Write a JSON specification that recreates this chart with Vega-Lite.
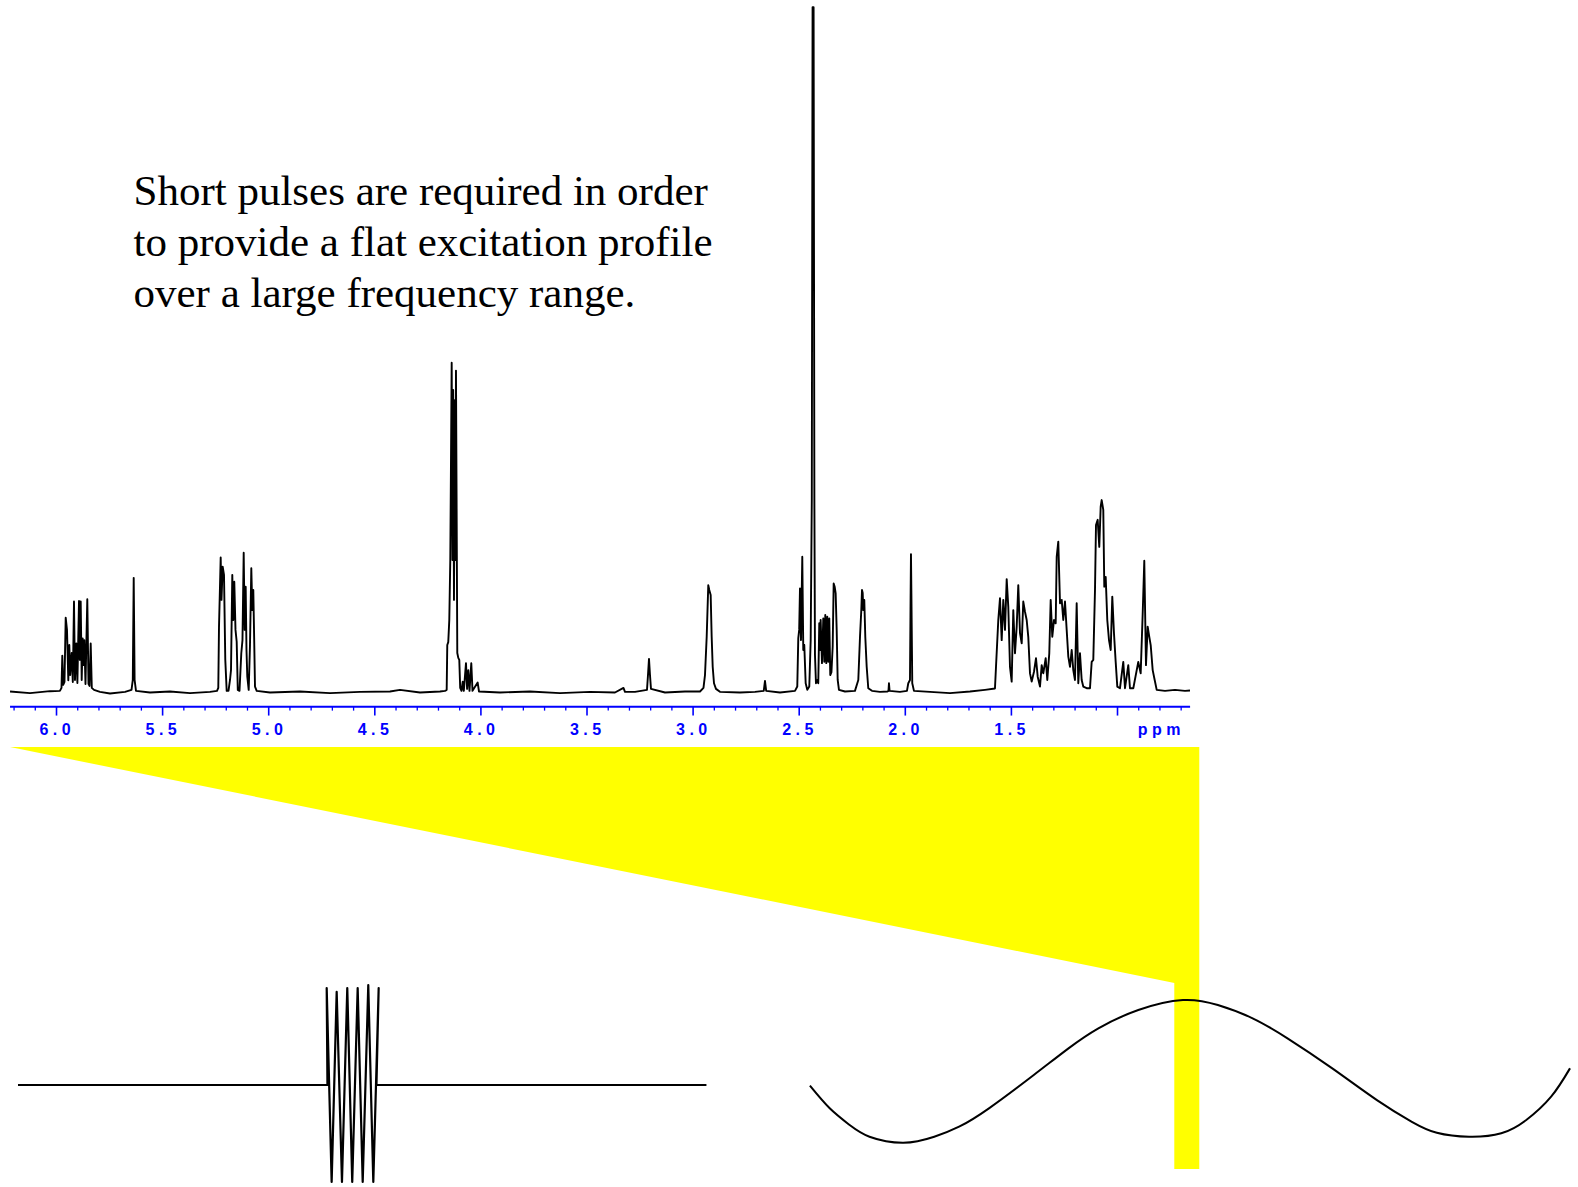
{
"$schema": "https://vega.github.io/schema/vega-lite/v6.json",
"width": 1578, "height": 1187,
"autosize": {"type": "none"},
"padding": 0,
"background": "white",
"config": {"view": {"stroke": null}},
"datasets": {
"spectrum": [
{"ppm":6.219,"int":0.3},{"ppm":6.125,"int":-0.2},{"ppm":6.031,"int":0.4},{"ppm":5.984,"int":0.5},
{"ppm":5.9765,"int":1.4},{"ppm":5.9727,"int":11.2},{"ppm":5.9685,"int":2.3},{"ppm":5.9624,"int":3.2},{"ppm":5.9567,"int":22.7},{"ppm":5.9506,"int":19.0},{"ppm":5.9444,"int":3.7},{"ppm":5.9397,"int":14.4},{"ppm":5.9355,"int":5.3},{"ppm":5.9284,"int":12.0},{"ppm":5.9232,"int":3.2},{"ppm":5.9176,"int":27.6},{"ppm":5.9129,"int":3.8},{"ppm":5.9067,"int":14.9},{"ppm":5.9016,"int":2.9},{"ppm":5.8940,"int":27.8},{"ppm":5.8902,"int":9.9},{"ppm":5.8860,"int":27.6},{"ppm":5.8813,"int":3.8},{"ppm":5.8766,"int":16.4},{"ppm":5.8728,"int":8.3},{"ppm":5.8690,"int":15.9},{"ppm":5.8634,"int":2.6},{"ppm":5.8549,"int":28.3},{"ppm":5.8493,"int":2.6},{"ppm":5.8445,"int":2.0},{"ppm":5.8389,"int":14.9},{"ppm":5.8337,"int":1.4},{"ppm":5.8233,"int":0.8},{"ppm":5.7951,"int":0.2},
{"ppm":5.748,"int":-0.3},{"ppm":5.677,"int":0.2},
{"ppm":5.6466,"int":0.8},{"ppm":5.6405,"int":3.8},{"ppm":5.6362,"int":34.8},{"ppm":5.6320,"int":3.8},{"ppm":5.6254,"int":0.5},
{"ppm":5.5594,"int":0},{"ppm":5.4652,"int":0.3},{"ppm":5.3709,"int":-0.2},{"ppm":5.2767,"int":0.2},{"ppm":5.2437,"int":0.5},
{"ppm":5.2376,"int":1.4},{"ppm":5.2343,"int":19.8},{"ppm":5.2263,"int":41.0},{"ppm":5.2225,"int":28.1},{"ppm":5.2169,"int":38.2},{"ppm":5.2107,"int":35.7},{"ppm":5.2046,"int":9.9},{"ppm":5.1980,"int":0.5},{"ppm":5.1895,"int":0.5},{"ppm":5.1824,"int":3.8},{"ppm":5.1777,"int":6.8},{"ppm":5.1716,"int":35.7},{"ppm":5.1669,"int":22.0},{"ppm":5.1622,"int":33.6},{"ppm":5.1565,"int":19.0},{"ppm":5.1509,"int":15.4},{"ppm":5.1457,"int":0.8},{"ppm":5.1377,"int":0.5},{"ppm":5.1330,"int":6.8},{"ppm":5.1292,"int":11.9},{"ppm":5.1236,"int":15.9},{"ppm":5.1179,"int":42.4},{"ppm":5.1132,"int":19.0},{"ppm":5.1085,"int":32.1},{"ppm":5.1047,"int":12.9},{"ppm":5.1009,"int":4.8},{"ppm":5.0943,"int":0.8},{"ppm":5.0882,"int":14.4},{"ppm":5.0820,"int":37.7},{"ppm":5.0773,"int":25.0},{"ppm":5.0726,"int":31.1},{"ppm":5.0684,"int":15.9},{"ppm":5.0646,"int":1.8},{"ppm":5.0566,"int":0.5},
{"ppm":4.9939,"int":0},{"ppm":4.8525,"int":0.3},{"ppm":4.7111,"int":-0.2},{"ppm":4.5698,"int":0.2},{"ppm":4.4284,"int":0.3},{"ppm":4.3813,"int":0.8},{"ppm":4.2871,"int":0},{"ppm":4.1928,"int":0.3},{"ppm":4.1692,"int":0.5},
{"ppm":4.1613,"int":0.8},{"ppm":4.1585,"int":14.4},{"ppm":4.1538,"int":15.3},{"ppm":4.1490,"int":22.0},{"ppm":4.1443,"int":40.2},{"ppm":4.1377,"int":100.1},{"ppm":4.1340,"int":40.2},{"ppm":4.1307,"int":91.8},{"ppm":4.1269,"int":28.1},{"ppm":4.1231,"int":88.7},{"ppm":4.1203,"int":40.2},{"ppm":4.1175,"int":97.7},{"ppm":4.1146,"int":58.4},{"ppm":4.1113,"int":12.0},{"ppm":4.1066,"int":10.5},{"ppm":4.1019,"int":9.9},{"ppm":4.0976,"int":1.4},{"ppm":4.0915,"int":0.5},{"ppm":4.0858,"int":3.3},{"ppm":4.0806,"int":0.5},{"ppm":4.0703,"int":8.9},{"ppm":4.0651,"int":1.1},{"ppm":4.0594,"int":6.8},{"ppm":4.0538,"int":0.5},{"ppm":4.0453,"int":8.9},{"ppm":4.0396,"int":0.5},{"ppm":4.0152,"int":3.0},{"ppm":4.0090,"int":0.3},
{"ppm":3.9101,"int":0},{"ppm":3.7687,"int":0.3},{"ppm":3.6273,"int":-0.2},{"ppm":3.4859,"int":0.2},{"ppm":3.3681,"int":0},{"ppm":3.3281,"int":1.4},{"ppm":3.3210,"int":0.2},{"ppm":3.2739,"int":0.2},
{"ppm":3.2173,"int":0.8},{"ppm":3.2126,"int":5.3},{"ppm":3.2079,"int":10.2},{"ppm":3.2032,"int":5.3},{"ppm":3.1985,"int":1.1},
{"ppm":3.1325,"int":0},{"ppm":3.0383,"int":0.3},{"ppm":2.9675,"int":0.3},
{"ppm":2.9511,"int":1.4},{"ppm":2.9440,"int":5.3},{"ppm":2.9360,"int":16.9},{"ppm":2.9285,"int":32.6},{"ppm":2.9238,"int":31.1},{"ppm":2.9172,"int":29.6},{"ppm":2.9125,"int":16.9},{"ppm":2.9077,"int":7.8},{"ppm":2.9016,"int":2.8},{"ppm":2.8922,"int":1.1},{"ppm":2.8734,"int":0.2},
{"ppm":2.7791,"int":0},{"ppm":2.7084,"int":0.2},{"ppm":2.6670,"int":0.5},{"ppm":2.6613,"int":3.5},{"ppm":2.6557,"int":0.5},{"ppm":2.5906,"int":0},{"ppm":2.5199,"int":0.5},
{"ppm":2.5091,"int":1.8},{"ppm":2.5044,"int":16.4},{"ppm":2.5001,"int":19.0},{"ppm":2.4963,"int":31.6},{"ppm":2.4916,"int":15.9},{"ppm":2.4855,"int":41.2},{"ppm":2.4808,"int":12.9},{"ppm":2.4761,"int":14.4},{"ppm":2.4695,"int":2.8},{"ppm":2.4619,"int":0.8},{"ppm":2.4525,"int":1.8},{"ppm":2.4459,"int":15.9},{"ppm":2.4407,"int":58.4},{"ppm":2.4370,"int":208.0},{"ppm":2.4322,"int":208.0},{"ppm":2.4285,"int":58.4},{"ppm":2.4257,"int":11.4},{"ppm":2.4210,"int":2.8},{"ppm":2.4149,"int":3.8},{"ppm":2.4102,"int":2.8},{"ppm":2.4055,"int":21.0},{"ppm":2.4022,"int":12.9},{"ppm":2.3989,"int":22.0},{"ppm":2.3927,"int":8.9},{"ppm":2.3865,"int":22.5},{"ppm":2.3818,"int":9.3},{"ppm":2.3771,"int":23.5},{"ppm":2.3724,"int":8.9},{"ppm":2.3677,"int":23.0},{"ppm":2.3630,"int":9.3},{"ppm":2.3583,"int":22.5},{"ppm":2.3536,"int":5.3},{"ppm":2.3480,"int":6.2},{"ppm":2.3423,"int":13.9},{"ppm":2.3376,"int":33.1},{"ppm":2.3329,"int":32.1},{"ppm":2.3282,"int":30.1},{"ppm":2.3234,"int":19.0},{"ppm":2.3187,"int":3.8},{"ppm":2.3126,"int":0.8},{"ppm":2.2843,"int":0.3},{"ppm":2.2372,"int":0.5},
{"ppm":2.2215,"int":3.8},{"ppm":2.2135,"int":16.9},{"ppm":2.2074,"int":25.0},{"ppm":2.2041,"int":31.1},{"ppm":2.2008,"int":30.2},{"ppm":2.1980,"int":25.0},{"ppm":2.1933,"int":28.1},{"ppm":2.1886,"int":16.9},{"ppm":2.1820,"int":7.8},{"ppm":2.1745,"int":1.3},{"ppm":2.1571,"int":0.5},
{"ppm":2.1194,"int":0.2},{"ppm":2.0841,"int":0.3},{"ppm":2.0793,"int":0.5},{"ppm":2.0770,"int":2.8},{"ppm":2.0741,"int":0.5},{"ppm":2.0252,"int":0.2},{"ppm":1.9922,"int":0.5},
{"ppm":1.9860,"int":2.8},{"ppm":1.9780,"int":3.8},{"ppm":1.9752,"int":28.1},{"ppm":1.9733,"int":42.0},{"ppm":1.9710,"int":28.1},{"ppm":1.9672,"int":2.8},{"ppm":1.9592,"int":0.5},
{"ppm":1.8837,"int":0.2},{"ppm":1.7895,"int":-0.2},{"ppm":1.6952,"int":0.3},{"ppm":1.6245,"int":0.8},{"ppm":1.5775,"int":1.2},
{"ppm":1.5726,"int":7.8},{"ppm":1.5618,"int":22.0},{"ppm":1.5538,"int":28.6},{"ppm":1.5458,"int":15.9},{"ppm":1.5382,"int":28.1},{"ppm":1.5302,"int":19.0},{"ppm":1.5222,"int":34.4},{"ppm":1.5147,"int":26.0},{"ppm":1.5067,"int":7.8},{"ppm":1.4987,"int":3.3},{"ppm":1.4911,"int":25.0},{"ppm":1.4831,"int":11.9},{"ppm":1.4751,"int":20.0},{"ppm":1.4676,"int":32.6},{"ppm":1.4595,"int":18.0},{"ppm":1.4515,"int":14.9},{"ppm":1.4440,"int":27.6},{"ppm":1.4360,"int":24.5},{"ppm":1.4280,"int":22.0},{"ppm":1.4205,"int":16.9},{"ppm":1.4124,"int":5.8},{"ppm":1.4044,"int":3.3},{"ppm":1.3936,"int":6.3},{"ppm":1.3841,"int":10.4},{"ppm":1.3761,"int":4.8},{"ppm":1.3653,"int":1.8},{"ppm":1.3573,"int":8.3},{"ppm":1.3497,"int":5.8},{"ppm":1.3384,"int":10.4},{"ppm":1.3309,"int":3.8},{"ppm":1.3215,"int":11.9},{"ppm":1.3149,"int":28.1},{"ppm":1.3074,"int":16.9},{"ppm":1.2993,"int":22.0},{"ppm":1.2913,"int":21.0},{"ppm":1.2866,"int":41.2},{"ppm":1.2791,"int":45.8},{"ppm":1.2710,"int":27.1},{"ppm":1.2630,"int":28.1},{"ppm":1.2555,"int":22.0},{"ppm":1.2475,"int":27.6},{"ppm":1.2395,"int":19.0},{"ppm":1.2319,"int":10.9},{"ppm":1.2239,"int":7.8},{"ppm":1.2159,"int":12.9},{"ppm":1.2084,"int":6.8},{"ppm":1.2004,"int":3.8},{"ppm":1.1924,"int":27.1},{"ppm":1.1848,"int":2.8},{"ppm":1.1768,"int":11.9},{"ppm":1.1688,"int":3.8},{"ppm":1.1613,"int":1.8},{"ppm":1.1452,"int":1.3},{"ppm":1.1297,"int":1.3},{"ppm":1.1217,"int":9.3},{"ppm":1.1141,"int":9.9},{"ppm":1.1061,"int":31.1},{"ppm":1.1014,"int":50.8},{"ppm":1.0934,"int":52.4},{"ppm":1.0859,"int":44.2},{"ppm":1.0793,"int":56.4},{"ppm":1.0746,"int":58.4},{"ppm":1.0670,"int":55.4},{"ppm":1.0623,"int":32.1},{"ppm":1.0557,"int":35.1},{"ppm":1.0482,"int":22.0},{"ppm":1.0401,"int":15.9},{"ppm":1.0321,"int":12.9},{"ppm":1.0246,"int":29.1},{"ppm":1.0166,"int":18.0},{"ppm":1.0086,"int":9.3},{"ppm":1.0010,"int":1.8},{"ppm":0.9883,"int":1.3},{"ppm":0.9728,"int":9.3},{"ppm":0.9647,"int":1.3},{"ppm":0.9492,"int":8.3},{"ppm":0.9412,"int":1.3},{"ppm":0.9256,"int":1.3},{"ppm":0.9021,"int":9.3},{"ppm":0.8908,"int":5.8},{"ppm":0.8813,"int":24.0},{"ppm":0.8738,"int":40.0},{"ppm":0.8658,"int":8.3},{"ppm":0.8578,"int":20.0},{"ppm":0.8502,"int":16.9},{"ppm":0.8436,"int":14.4},{"ppm":0.8342,"int":6.8},{"ppm":0.8248,"int":3.8},{"ppm":0.8153,"int":0.8},{"ppm":0.7762,"int":0.5},{"ppm":0.7291,"int":0.8},{"ppm":0.6820,"int":0.5},{"ppm":0.6584,"int":0.6}
],
"axisline": [{"ppm": 6.219, "ppm2": 0.658}],
"ticks": [
{"ppm":6.0,"kind":"major"},{"ppm":5.5,"kind":"major"},{"ppm":5.0,"kind":"major"},{"ppm":4.5,"kind":"major"},{"ppm":4.0,"kind":"major"},{"ppm":3.5,"kind":"major"},{"ppm":3.0,"kind":"major"},{"ppm":2.5,"kind":"major"},{"ppm":2.0,"kind":"major"},{"ppm":1.5,"kind":"major"},{"ppm":1.0,"kind":"major"},
{"ppm":6.2,"kind":"minor"},{"ppm":6.1,"kind":"minor"},{"ppm":5.9,"kind":"minor"},{"ppm":5.8,"kind":"minor"},{"ppm":5.7,"kind":"minor"},{"ppm":5.6,"kind":"minor"},{"ppm":5.4,"kind":"minor"},{"ppm":5.3,"kind":"minor"},{"ppm":5.2,"kind":"minor"},{"ppm":5.1,"kind":"minor"},{"ppm":4.9,"kind":"minor"},{"ppm":4.8,"kind":"minor"},{"ppm":4.7,"kind":"minor"},{"ppm":4.6,"kind":"minor"},{"ppm":4.4,"kind":"minor"},{"ppm":4.3,"kind":"minor"},{"ppm":4.2,"kind":"minor"},{"ppm":4.1,"kind":"minor"},{"ppm":3.9,"kind":"minor"},{"ppm":3.8,"kind":"minor"},{"ppm":3.7,"kind":"minor"},{"ppm":3.6,"kind":"minor"},{"ppm":3.4,"kind":"minor"},{"ppm":3.3,"kind":"minor"},{"ppm":3.2,"kind":"minor"},{"ppm":3.1,"kind":"minor"},{"ppm":2.9,"kind":"minor"},{"ppm":2.8,"kind":"minor"},{"ppm":2.7,"kind":"minor"},{"ppm":2.6,"kind":"minor"},{"ppm":2.4,"kind":"minor"},{"ppm":2.3,"kind":"minor"},{"ppm":2.2,"kind":"minor"},{"ppm":2.1,"kind":"minor"},{"ppm":1.9,"kind":"minor"},{"ppm":1.8,"kind":"minor"},{"ppm":1.7,"kind":"minor"},{"ppm":1.6,"kind":"minor"},{"ppm":1.4,"kind":"minor"},{"ppm":1.3,"kind":"minor"},{"ppm":1.2,"kind":"minor"},{"ppm":1.1,"kind":"minor"},{"ppm":0.9,"kind":"minor"},{"ppm":0.8,"kind":"minor"},{"ppm":0.7,"kind":"minor"}
],
"labels": [
{"ppm":6.0,"label":"6 . 0"},{"ppm":5.5,"label":"5 . 5"},{"ppm":5.0,"label":"5 . 0"},{"ppm":4.5,"label":"4 . 5"},{"ppm":4.0,"label":"4 . 0"},{"ppm":3.5,"label":"3 . 5"},{"ppm":3.0,"label":"3 . 0"},{"ppm":2.5,"label":"2 . 5"},{"ppm":2.0,"label":"2 . 0"},{"ppm":1.5,"label":"1 . 5"},{"ppm":0.7965,"label":"p p m"}
],
"excitation": [
{"ppm": 6.219, "top": -16.54, "bottom": -16.54},
{"ppm": 0.72, "top": -16.54, "bottom": -88.3}
],
"strip": [{"ppm": 0.7324, "ppm2": 0.6146, "top": -16.54, "bottom": -144.6}],
"caption": [{"ppm": 5.6372, "int": 147.95, "text": "Short pulses are required in order\nto provide a flat excitation profile\nover a large frequency range."}],
"pulse": [
{"i":0,"t":0,"b1":0},{"i":1,"t":44.95,"b1":0},{"i":2,"t":44.84,"b1":1.0},{"i":3,"t":45.56,"b1":-1.0},{"i":4,"t":46.29,"b1":0.96},{"i":5,"t":47.06,"b1":-1.0},{"i":6,"t":47.83,"b1":1.0},{"i":7,"t":48.55,"b1":-1.0},{"i":8,"t":49.34,"b1":1.0},{"i":9,"t":50.07,"b1":-1.0},{"i":10,"t":50.88,"b1":1.03},{"i":11,"t":51.61,"b1":-1.0},{"i":12,"t":52.39,"b1":1.0},{"i":13,"t":52.07,"b1":0},{"i":14,"t":100,"b1":0}
],
"wave": [
{"phase":-237.3,"amp":-0.224},{"phase":-224.7,"amp":-0.547},{"phase":-212.0,"amp":-0.786},{"phase":-199.4,"amp":-0.953},{"phase":-177.9,"amp":-1.039},{"phase":-158.2,"amp":-0.953},{"phase":-142.4,"amp":-0.81},{"phase":-123.4,"amp":-0.547},{"phase":-94.9,"amp":-0.071},{"phase":-72.8,"amp":0.31},{"phase":-53.8,"amp":0.596},{"phase":-28.4,"amp":0.857},{"phase":0,"amp":1.0},{"phase":22.2,"amp":0.929},{"phase":44.3,"amp":0.739},{"phase":66.5,"amp":0.453},{"phase":95.0,"amp":0.024},{"phase":123.4,"amp":-0.429},{"phase":145.6,"amp":-0.739},{"phase":161.5,"amp":-0.896},{"phase":182.0,"amp":-0.953},{"phase":202.5,"amp":-0.904},{"phase":218.4,"amp":-0.714},{"phase":234.2,"amp":-0.381},{"phase":246.2,"amp":0.024}
]
},
"resolve": {"scale": {"x": "independent", "y": "independent"}},
"layer": [
{
"data": {"name": "excitation"},
"mark": {"type": "area", "color": "#ffff00", "opacity": 1},
"encoding": {
"x": {"field": "ppm", "type": "quantitative", "axis": null, "scale": {"domain": [-1.1701, 6.2663], "reverse": true, "nice": false, "zero": false}},
"y": {"field": "top", "type": "quantitative", "axis": null, "scale": {"domain": [-150.08, 210.17], "nice": false, "zero": false}},
"y2": {"field": "bottom"}
}
},
{
"data": {"name": "strip"},
"mark": {"type": "rect", "color": "#ffff00"},
"encoding": {
"x": {"field": "ppm", "type": "quantitative", "axis": null, "scale": {"domain": [-1.1701, 6.2663], "reverse": true, "nice": false, "zero": false}},
"x2": {"field": "ppm2"},
"y": {"field": "top", "type": "quantitative", "axis": null, "scale": {"domain": [-150.08, 210.17], "nice": false, "zero": false}},
"y2": {"field": "bottom"}
}
},
{
"data": {"name": "spectrum"},
"mark": {"type": "line", "color": "#000000", "strokeWidth": 1.9, "strokeJoin": "round"},
"encoding": {
"x": {"field": "ppm", "type": "quantitative", "axis": null, "scale": {"domain": [-1.1701, 6.2663], "reverse": true, "nice": false, "zero": false}},
"y": {"field": "int", "type": "quantitative", "axis": null, "scale": {"domain": [-150.08, 210.17], "nice": false, "zero": false}}
}
},
{
"data": {"name": "axisline"},
"mark": {"type": "rule", "color": "#0000ff", "strokeWidth": 2},
"encoding": {
"x": {"field": "ppm", "type": "quantitative", "axis": null, "scale": {"domain": [-1.1701, 6.2663], "reverse": true, "nice": false, "zero": false}},
"x2": {"field": "ppm2"},
"y": {"datum": -4.31, "type": "quantitative", "axis": null, "scale": {"domain": [-150.08, 210.17], "nice": false, "zero": false}}
}
},
{
"data": {"name": "ticks"},
"transform": [{"filter": "datum.kind === 'major'"}],
"mark": {"type": "rule", "color": "#0000ff", "strokeWidth": 1.6},
"encoding": {
"x": {"field": "ppm", "type": "quantitative", "axis": null, "scale": {"domain": [-1.1701, 6.2663], "reverse": true, "nice": false, "zero": false}},
"y": {"datum": -4.31, "type": "quantitative", "axis": null, "scale": {"domain": [-150.08, 210.17], "nice": false, "zero": false}},
"y2": {"datum": -7.0}
}
},
{
"data": {"name": "ticks"},
"transform": [{"filter": "datum.kind === 'minor'"}],
"mark": {"type": "rule", "color": "#0000ff", "strokeWidth": 1.3},
"encoding": {
"x": {"field": "ppm", "type": "quantitative", "axis": null, "scale": {"domain": [-1.1701, 6.2663], "reverse": true, "nice": false, "zero": false}},
"y": {"datum": -4.31, "type": "quantitative", "axis": null, "scale": {"domain": [-150.08, 210.17], "nice": false, "zero": false}},
"y2": {"datum": -5.5}
}
},
{
"data": {"name": "labels"},
"mark": {"type": "text", "color": "#0000ff", "font": "Liberation Sans", "fontWeight": "bold", "fontSize": 16, "align": "center", "baseline": "middle", "dx": -1.5},
"encoding": {
"x": {"field": "ppm", "type": "quantitative", "axis": null, "scale": {"domain": [-1.1701, 6.2663], "reverse": true, "nice": false, "zero": false}},
"y": {"datum": -11.5, "type": "quantitative", "axis": null, "scale": {"domain": [-150.08, 210.17], "nice": false, "zero": false}},
"text": {"field": "label"}
}
},
{
"data": {"name": "caption"},
"mark": {"type": "text", "color": "#000000", "font": "Liberation Serif", "fontSize": 43, "align": "left", "baseline": "alphabetic", "lineBreak": "\n", "lineHeight": 51},
"encoding": {
"x": {"field": "ppm", "type": "quantitative", "axis": null, "scale": {"domain": [-1.1701, 6.2663], "reverse": true, "nice": false, "zero": false}},
"y": {"field": "int", "type": "quantitative", "axis": null, "scale": {"domain": [-150.08, 210.17], "nice": false, "zero": false}},
"text": {"field": "text"}
}
},
{
"data": {"name": "pulse"},
"mark": {"type": "line", "color": "#000000", "strokeWidth": 2.2, "strokeJoin": "round"},
"encoding": {
"x": {"field": "t", "type": "quantitative", "axis": null, "scale": {"domain": [-2.614, 226.6], "nice": false, "zero": false}},
"y": {"field": "b1", "type": "quantitative", "axis": null, "scale": {"domain": [-1.0515, 11.186], "nice": false, "zero": false}},
"order": {"field": "i", "type": "quantitative"}
}
},
{
"data": {"name": "wave"},
"mark": {"type": "line", "color": "#000000", "strokeWidth": 2, "interpolate": "natural"},
"encoding": {
"x": {"field": "phase", "type": "quantitative", "axis": null, "scale": {"domain": [-752.5, 251.3], "nice": false, "zero": false}},
"y": {"field": "amp", "type": "quantitative", "axis": null, "scale": {"domain": [-1.671, 15.286], "nice": false, "zero": false}}
}
}
]
}
